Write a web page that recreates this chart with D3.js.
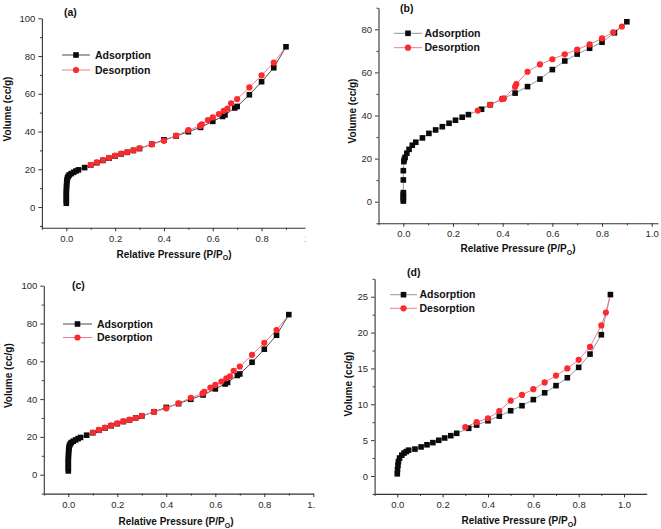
<!DOCTYPE html>
<html><head><meta charset="utf-8">
<script src="https://cdn.jsdelivr.net/npm/d3@7"></script>
<style>
body{margin:0;background:#fff}
svg{display:block}
text{font-family:"Liberation Sans",Arial,Helvetica,sans-serif}
</style>
</head><body>
<svg id="chart" width="661" height="529"></svg>
<script>
// ---------- data ----------
const legendLabels = ["Adsorption", "Desorption"];
const panelLabels = ["(a)", "(b)", "(c)", "(d)"];
const xTitle = "Relative Pressure (P/P";
const xTitleSub = "O";
const yTitle = "Volume (cc/g)";

const xMajor = [0, 0.2, 0.4, 0.6, 0.8, 1.0];
const xMinor = [-0.1, 0.1, 0.3, 0.5, 0.7, 0.9];
const yMajorAC = [0, 20, 40, 60, 80, 100];
const yMinorAC = [-10, 10, 30, 50, 70, 90];
const yMajorB = [0, 20, 40, 60, 80];
const yMinorB = [-10, 10, 30, 50, 70, 90];
const yMajorD = [0, 5, 10, 15, 20, 25];
const yMinorD = [-2.5, 2.5, 7.5, 12.5, 17.5, 22.5, 27.5];

// (a)
const aAdsP = [0,0,0,0,0,0.0005,0.001,0.0015,0.002,0.003,0.005,0.008,0.012,0.02,0.03,0.04,0.05,0.075,0.1,0.125,0.15,0.175,0.2,0.225,0.25,0.275,0.3,0.35,0.4,0.45,0.5,0.55,0.6,0.64,0.65,0.69,0.7,0.75,0.8,0.85,0.9];
const aAdsV = [2,3.5,5,6.5,8,9.5,11,12.5,13.5,14.5,15.5,16.3,17.0,17.7,18.4,19.1,19.7,20.9,22.2,23.5,24.7,25.9,27.0,28.1,29.0,30.0,31.0,33.3,35.6,37.6,39.9,42.2,45.4,48.0,48.8,52.5,53.3,59.5,66.4,73.8,84.9];
const aDesP = [0.85,0.8,0.75,0.7,0.675,0.66,0.645,0.625,0.6,0.58,0.555,0.548,0.5,0.45,0.4,0.35,0.3,0.275,0.25,0.225,0.2,0.175,0.15,0.125,0.1];
const aDesV = [76.5,69.8,63.4,57.2,55.0,52.1,51.0,49.3,47.5,46.1,43.8,43.0,40.7,37.8,35.1,33.2,31.1,30.0,29.1,28.3,27.2,26.1,24.9,23.7,22.3];

// (b)
const bAdsP = [0,0,0,0,0,0,0,0.002,0.004,0.007,0.014,0.023,0.036,0.05,0.077,0.103,0.13,0.157,0.184,0.21,0.237,0.262,0.315,0.35,0.4,0.45,0.5,0.55,0.6,0.65,0.7,0.75,0.8,0.85,0.9];
const bAdsV = [0.3,1.2,2.2,3.2,4.2,10.1,14.4,18.6,19.6,20.6,22.5,24.3,26.2,27.6,29.6,31.7,33.3,34.8,36.4,37.8,39.2,40.4,42.9,45.0,47.8,50.4,53.4,56.9,61.3,65.3,68.5,71.2,74.0,78.4,83.5];
const bDesP = [0.88,0.845,0.8,0.75,0.7,0.65,0.6,0.55,0.5,0.455,0.45,0.405,0.397,0.35,0.3];
const bDesV = [81.3,78.6,75.8,73.0,70.6,68.4,66.1,63.7,60.3,54.6,53.3,48.0,47.6,45.0,42.3];

// (c)
const cAdsP = [0,0,0,0,0,0.0005,0.001,0.0015,0.002,0.003,0.005,0.008,0.012,0.02,0.03,0.04,0.05,0.075,0.1,0.125,0.15,0.175,0.2,0.225,0.25,0.275,0.3,0.35,0.4,0.45,0.5,0.55,0.6,0.64,0.65,0.69,0.7,0.75,0.8,0.85,0.9];
const cAdsV = [2,3.5,5,6.5,8,9.5,11,12.5,13.5,14.5,15.5,16.3,17.0,17.7,18.4,19.1,19.7,20.9,22.2,23.5,24.7,25.9,27.0,28.1,29.0,30.0,31.0,33.3,35.6,37.6,39.9,42.2,45.4,48.0,48.8,52.5,53.3,59.5,66.4,73.8,84.7];
const cDesP = [0.85,0.8,0.75,0.7,0.675,0.66,0.645,0.625,0.6,0.58,0.555,0.548,0.5,0.45,0.4,0.35,0.3,0.275,0.25,0.225,0.2,0.175,0.15,0.125,0.1];
const cDesV = [76.5,69.8,63.4,57.2,55.0,52.1,51.0,49.3,47.5,46.1,43.8,43.0,40.7,37.8,35.1,33.2,31.1,30.0,29.1,28.3,27.2,26.1,24.9,23.7,22.3];

// (d)
const dAdsP = [0,0.001,0.003,0.005,0.01,0.02,0.03,0.04,0.05,0.078,0.105,0.131,0.157,0.183,0.209,0.236,0.262,0.315,0.35,0.4,0.45,0.5,0.55,0.6,0.65,0.7,0.75,0.8,0.85,0.9,0.94];
const dAdsV = [0.3,0.9,1.5,2.0,2.5,2.9,3.2,3.4,3.6,3.75,4.05,4.35,4.65,4.98,5.3,5.62,5.95,6.65,7.1,7.7,8.35,9.1,9.8,10.65,11.6,12.6,13.7,15.15,17.0,19.7,25.3];
const dDesP = [0.92,0.9,0.85,0.8,0.75,0.7,0.65,0.6,0.55,0.5,0.45,0.4,0.35,0.3];
const dDesV = [22.8,21.0,18.0,16.2,15.0,14.0,13.05,12.1,11.3,10.5,9.05,8.05,7.5,6.8];

// ---------- layout ----------
const panels = [
  {label: panelLabels[0], adsP: aAdsP, adsV: aAdsV, desP: aDesP, desV: aDesV,
   xDom: [-0.1, 1.0], xRange: [41.9, 310.4], yDom: [-11, 100], yRange: [227.8, 18.3],
   yMajor: yMajorAC, yMinor: yMinorAC, clipRight: 305.5, adsLine: "#4d4d4d",
   leg: {x0: 62, x1: 90, y: 55, dy: 15, tx: 95}, lab: [64, 15.5],
   xt: [174, 257.5], yt: [10.5, 109]},
  {label: panelLabels[1], adsP: bAdsP, adsV: bAdsV, desP: bDesP, desV: bDesV,
   xDom: [-0.1, 1.025], xRange: [378.5, 657.9], yDom: [-10, 90], yRange: [223.25, 7.75],
   yMajor: yMajorB, yMinor: yMinorB, clipRight: 661, adsLine: "#8d9aa6",
   leg: {x0: 394, x1: 422, y: 33.3, dy: 14.4, tx: 424.5}, lab: [400, 12],
   xt: [518, 252], yt: [356, 111]},
  {label: panelLabels[2], adsP: cAdsP, adsV: cAdsV, desP: cDesP, desV: cDesV,
   xDom: [-0.1, 1.0], xRange: [43.8, 313.3], yDom: [-10, 100], yRange: [493.6, 285.7],
   yMajor: yMajorAC, yMinor: yMinorAC, clipRight: 315, adsLine: "#4d4d4d",
   leg: {x0: 63, x1: 92, y: 324, dy: 13.5, tx: 97}, lab: [72, 288.5],
   xt: [176, 525], yt: [11.8, 375.7]},
  {label: panelLabels[3], adsP: dAdsP, adsV: dAdsV, desP: dDesP, desV: dDesV,
   xDom: [-0.1, 1.1], xRange: [374.6, 646.7], yDom: [-2.5, 27.5], yRange: [493.9, 278.8],
   yMajor: yMajorD, yMinor: yMinorD, clipRight: 661, adsLine: "#8d9aa6",
   leg: {x0: 390, x1: 417, y: 294.7, dy: 13.6, tx: 419.5}, lab: [407, 276],
   xt: [519, 524], yt: [351.8, 384]}
];

const BLACK = "#0b0b0b", RED = "#fa2a2e", DES_LINE = "#f27a86", AXIS = "#333";
const SQ = 5.6, CR = 3.1;

const svg = d3.select("#chart");

panels.forEach((p, i) => {
  const g = svg.append("g");
  const clipId = "clip" + i;
  svg.append("clipPath").attr("id", clipId)
    .append("rect").attr("x", 0).attr("y", 0).attr("width", p.clipRight).attr("height", 529);
  const cg = g.append("g").attr("clip-path", `url(#${clipId})`);

  const x = d3.scaleLinear().domain(p.xDom).range(p.xRange);
  const y = d3.scaleLinear().domain(p.yDom).range(p.yRange);
  const x0 = p.xRange[0], yb = p.yRange[0];

  // x axis (major + minor)
  const xa = cg.append("g").attr("transform", `translate(0,${yb})`)
    .call(d3.axisBottom(x).tickValues(xMajor).tickFormat(d3.format(".1f"))
      .tickSize(3.5).tickSizeOuter(0).tickPadding(4));
  cg.append("g").attr("transform", `translate(0,${yb})`)
    .call(d3.axisBottom(x).tickValues(xMinor.filter(v => v >= p.xDom[0] && v <= p.xDom[1]))
      .tickFormat("").tickSize(2).tickSizeOuter(0))
    .select(".domain").remove();

  // y axis
  const ya = g.append("g").attr("transform", `translate(${x0},0)`)
    .call(d3.axisLeft(y).tickValues(p.yMajor).tickFormat(d3.format("d"))
      .tickSize(3.5).tickSizeOuter(0).tickPadding(3));
  g.append("g").attr("transform", `translate(${x0},0)`)
    .call(d3.axisLeft(y).tickValues(p.yMinor.filter(v => v >= p.yDom[0] && v <= p.yDom[1]))
      .tickFormat("").tickSize(2).tickSizeOuter(0))
    .select(".domain").remove();

  svg.selectAll(".domain").attr("stroke", AXIS).attr("stroke-width", 1.1);
  svg.selectAll(".tick line").attr("stroke", AXIS);
  [xa, ya].forEach(a => a.selectAll("text")
    .attr("font-size", 9.5).attr("fill", "#2a2a2a")
    .attr("font-family", '"Liberation Sans",Arial,sans-serif'));

  // data
  const ads = p.adsP.map((v, k) => [v, p.adsV[k]]);
  const des = p.desP.map((v, k) => [v, p.desV[k]]);
  const line = d3.line().x(d => x(d[0])).y(d => y(d[1]));

  g.append("path").datum(ads).attr("d", line)
    .attr("fill", "none").attr("stroke", p.adsLine).attr("stroke-width", 1);
  // desorption branch starts where the adsorption branch ends (loop closure)
  g.append("path").datum([ads[ads.length - 1]].concat(des)).attr("d", line)
    .attr("fill", "none").attr("stroke", DES_LINE).attr("stroke-width", 1);

  g.append("g").selectAll("rect").data(ads).join("rect")
    .attr("x", d => x(d[0]) - SQ / 2).attr("y", d => y(d[1]) - SQ / 2)
    .attr("width", SQ).attr("height", SQ).attr("fill", BLACK);
  g.append("g").selectAll("circle").data(des).join("circle")
    .attr("cx", d => x(d[0])).attr("cy", d => y(d[1])).attr("r", CR).attr("fill", RED);

  // legend
  const L = p.leg;
  [[p.adsLine, "sq"], [DES_LINE, "ci"]].forEach((s, k) => {
    const yy = L.y + k * L.dy, mx = (L.x0 + L.x1) / 2;
    g.append("line").attr("x1", L.x0).attr("x2", L.x1).attr("y1", yy).attr("y2", yy)
      .attr("stroke", s[0]).attr("stroke-width", 1);
    if (s[1] === "sq") {
      g.append("rect").attr("x", mx - SQ / 2).attr("y", yy - SQ / 2)
        .attr("width", SQ).attr("height", SQ).attr("fill", BLACK);
    } else {
      g.append("circle").attr("cx", mx).attr("cy", yy).attr("r", CR).attr("fill", RED);
    }
    g.append("text").attr("x", L.tx).attr("y", yy).attr("dy", "0.36em")
      .attr("font-size", 10.5).attr("font-weight", "bold").attr("fill", "#111")
      .text(legendLabels[k]);
  });

  // panel label
  g.append("text").attr("x", p.lab[0]).attr("y", p.lab[1])
    .attr("font-size", 10.5).attr("font-weight", "bold").attr("fill", "#111").text(p.label);

  // axis titles
  const xt = g.append("text").attr("x", p.xt[0]).attr("y", p.xt[1])
    .attr("text-anchor", "middle").attr("font-size", 10).attr("font-weight", "bold").attr("fill", "#111");
  xt.append("tspan").text(xTitle);
  xt.append("tspan").attr("font-size", 7).attr("dy", 2.5).text(xTitleSub);
  xt.append("tspan").attr("dy", -2.5).text(")");

  g.append("text").attr("transform", `translate(${p.yt[0]},${p.yt[1]}) rotate(-90)`)
    .attr("text-anchor", "middle").attr("font-size", 10).attr("font-weight", "bold").attr("fill", "#111")
    .text(yTitle);
});
</script>
</body></html>
